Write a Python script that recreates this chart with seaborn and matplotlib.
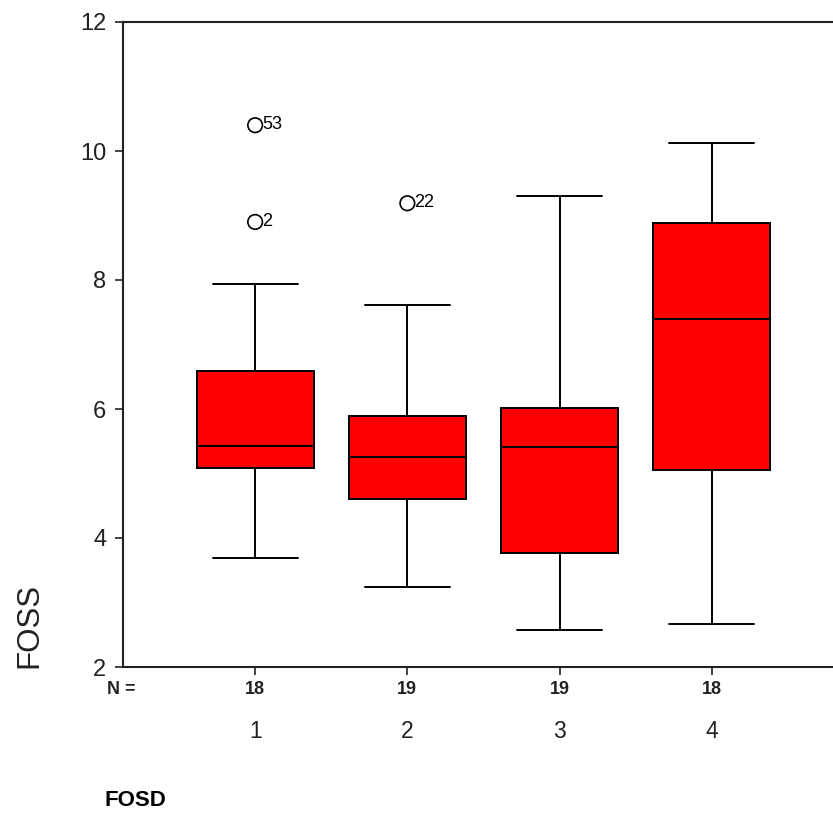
import matplotlib
matplotlib.use("Agg")
import matplotlib.pyplot as plt
import matplotlib.transforms as mtransforms
import seaborn as sns
import pandas as pd

# ---- data ----
groups = ["1", "2", "3", "4"]
n_counts = [18, 19, 19, 18]
whisker_low = [3.69, 3.24, 2.57, 2.67]
q1 = [5.09, 4.60, 3.77, 5.05]
median = [5.42, 5.26, 5.41, 7.40]
q3 = [6.59, 5.89, 6.02, 8.88]
whisker_high = [7.94, 7.61, 9.30, 10.12]

outlier_group = ["1", "1", "2"]
outlier_value = [10.40, 8.90, 9.19]
outlier_label = ["53", "2", "22"]

y_ticks = [2, 4, 6, 8, 10, 12]

# Long-form summary table: whisker ends, hinges (doubled) and median,
# so that the box statistics equal the read values.
rows = []
for g, lo, a, m, b, hi in zip(groups, whisker_low, q1, median, q3, whisker_high):
    for v in (lo, a, a, m, b, b, hi):
        rows.append({"group": g, "FOSS": v})
df = pd.DataFrame(rows)
out_df = pd.DataFrame({"group": outlier_group, "FOSS": outlier_value, "label": outlier_label})

sns.set_theme(style="white")
plt.rcParams["font.family"] = ["Liberation Sans", "DejaVu Sans"]

fig = plt.figure(figsize=(8.33, 8.24), dpi=100)
ax = fig.add_axes([123 / 833, 1 - 667 / 824, 1 - 123 / 833, (667 - 22) / 824])

sns.boxplot(
    data=df, x="group", y="FOSS", order=groups, ax=ax,
    whis=(0, 100), showfliers=False, width=0.77,
    color="#FF0000", linecolor="black", linewidth=1.4,
    saturation=1, capwidths=0.56,
)
for p in ax.patches:
    p.set_facecolor("#FF0000")
    p.set_edgecolor("black")

sns.scatterplot(
    data=out_df, x="group", y="FOSS", ax=ax, marker="o", s=110,
    facecolor="none", edgecolor="black", linewidth=1.2, zorder=5,
)
for g, v, lab in zip(outlier_group, outlier_value, outlier_label):
    ax.annotate(lab, xy=(groups.index(g), v), xytext=(5, 0.5), textcoords="offset points",
                ha="left", va="center", fontsize=13, color="black")

ax.set_xlim(-0.868, 3.796)
ax.set_ylim(2, 12)
ax.set_yticks(y_ticks)
ax.set_yticklabels([str(t) for t in y_ticks], fontsize=17, color="#222222")
ax.set_xticks(range(len(groups)))
ax.set_xticklabels(groups, fontsize=16.5, color="#222222")
ax.tick_params(axis="y", direction="out", length=6, width=1.2, pad=6, left=True, color="#222222")
ax.tick_params(axis="x", direction="out", length=6, width=1.2, pad=32, bottom=True, color="#222222")

for side in ("left", "top", "bottom"):
    ax.spines[side].set_visible(True)
    ax.spines[side].set_color("#222222")
    ax.spines[side].set_linewidth(1.5)
ax.spines["right"].set_visible(False)
ax.set_xlabel("")
ax.set_ylabel("")
ax.grid(False)

# N counts row
trans = mtransforms.blended_transform_factory(ax.transData, ax.transAxes)
for i, n in enumerate(n_counts):
    ax.annotate(str(n), xy=(i, 0), xycoords=trans, xytext=(0, -16.5), textcoords="offset points",
                ha="center", va="center", fontsize=13, fontweight="semibold", color="#222222")
fig.text(107 / 833, 1 - 690 / 824, "N =", ha="left", va="center",
         fontsize=13, fontweight="bold", color="#222222")

fig.text(29 / 833, 1 - 625 / 824, "FOSS", rotation=90, ha="center", va="center",
         fontsize=22.5, color="#222222")
fig.text(105 / 833, 1 - 801 / 824, "FOSD", ha="left", va="center",
         fontsize=16, fontweight="bold", color="black")

fig.savefig("out.png", dpi=100)
